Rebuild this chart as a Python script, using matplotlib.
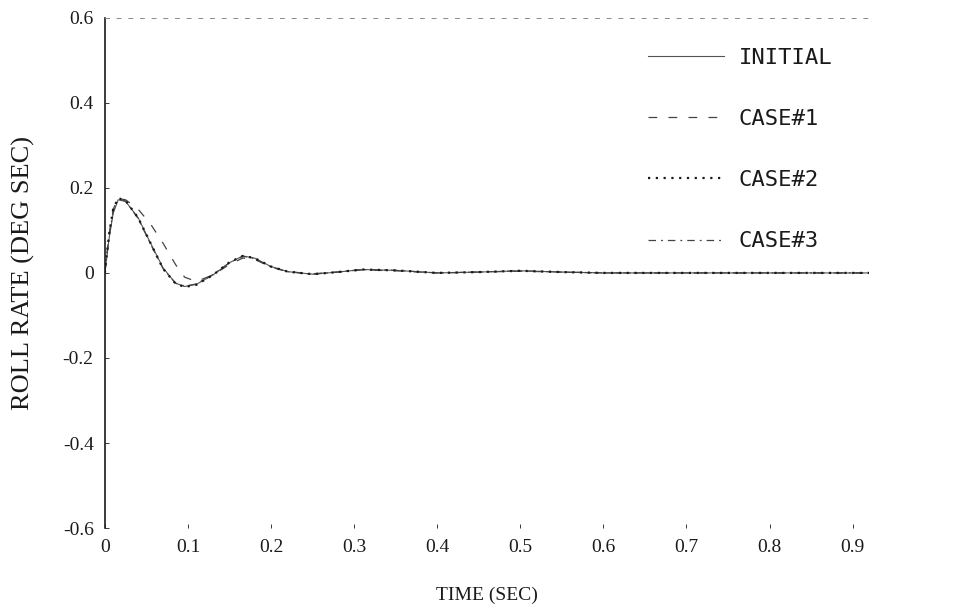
import numpy as np
import matplotlib.pyplot as plt

# time points (sec)
t = [0, 0.005, 0.01, 0.016, 0.025, 0.04, 0.055, 0.07, 0.085, 0.096, 0.11, 0.13,
     0.15, 0.166, 0.18, 0.2, 0.22, 0.25, 0.28, 0.31, 0.35, 0.4, 0.45, 0.5, 0.55,
     0.6, 0.7, 0.8, 0.92]

# roll rate (deg/sec)
initial = [0, 0.08, 0.14, 0.172, 0.168, 0.13, 0.07, 0.012, -0.024, -0.032, -0.027,
           -0.005, 0.024, 0.04, 0.035, 0.015, 0.003, -0.003, 0.002, 0.008, 0.006,
           0.0, 0.002, 0.005, 0.002, 0.0, 0.0, 0.0, 0.0]
case1 = [0, 0.09, 0.15, 0.175, 0.172, 0.15, 0.115, 0.07, 0.02, -0.01, -0.02,
         -0.005, 0.02, 0.035, 0.032, 0.014, 0.003, -0.002, 0.002, 0.007, 0.005,
         0.0, 0.002, 0.004, 0.002, 0.0, 0.0, 0.0, 0.0]
case2 = [0, 0.09, 0.15, 0.176, 0.17, 0.13, 0.07, 0.01, -0.025, -0.033, -0.028,
         -0.005, 0.025, 0.04, 0.035, 0.015, 0.003, -0.003, 0.002, 0.008, 0.006,
         0.0, 0.002, 0.005, 0.002, 0.0, 0.0, 0.0, 0.0]
case3 = [0, 0.085, 0.145, 0.174, 0.169, 0.128, 0.068, 0.01, -0.024, -0.031, -0.026,
         -0.004, 0.024, 0.039, 0.034, 0.014, 0.003, -0.003, 0.002, 0.008, 0.006,
         0.0, 0.002, 0.005, 0.002, 0.0, 0.0, 0.0, 0.0]

xticks = [0, 0.1, 0.2, 0.3, 0.4, 0.5, 0.6, 0.7, 0.8, 0.9]
xlabels = ['0', '0.1', '0.2', '0.3', '0.4', '0.5', '0.6', '0.7', '0.8', '0.9']
yticks = [-0.6, -0.4, -0.2, 0, 0.2, 0.4, 0.6]
ylabels = ['-0.6', '-0.4', '-0.2', '0', '0.2', '0.4', '0.6']

fig = plt.figure(figsize=(9.8, 6.14), dpi=100)
ax = fig.add_axes([0.107, 0.14, 0.78, 0.831])

ink = '#1a1a1a'
ax.plot(t, initial, '-', color='#555555', lw=0.8, label='INITIAL')
ax.plot(t, case1, '--', color='#444444', lw=0.9, dashes=(7, 9), label='CASE#1')
ax.plot(t, case3, '-.', color='#444444', lw=0.9, dashes=(6, 4, 1.5, 4), label='CASE#3')
ax.plot(t, case2, ':', color=ink, lw=1.6, dashes=(1, 2.5), label='CASE#2')

ax.set_xlim(0, 0.92)
ax.set_ylim(-0.6, 0.6)
ax.set_xticks(xticks)
ax.set_xticklabels(xlabels)
ax.set_yticks(yticks)
ax.set_yticklabels(ylabels)

serif = 'Liberation Serif'
for lab in ax.get_xticklabels() + ax.get_yticklabels():
    lab.set_family(serif)
    lab.set_fontsize(14)
ax.tick_params(direction='in', length=3, width=0.6, colors=ink, pad=8)

for s in ['right', 'bottom']:
    ax.spines[s].set_visible(False)
ax.spines['left'].set_color(ink)
ax.spines['left'].set_linewidth(1.2)
ax.spines['top'].set_color('#888888')
ax.spines['top'].set_linewidth(0.7)
ax.spines['top'].set_linestyle((0, (4, 8)))

ax.set_xlabel('TIME (SEC)', family=serif, fontsize=14, labelpad=22, color=ink)
ax.set_ylabel('ROLL RATE (DEG SEC)', family=serif, fontsize=19, color=ink)
ax.yaxis.set_label_coords(-0.092, 0.5)

# legend order as in the picture
h, l = ax.get_legend_handles_labels()
order = [0, 1, 3, 2]
leg = ax.legend([h[i] for i in order], [l[i] for i in order],
                loc='upper left', bbox_to_anchor=(0.685, 0.98), frameon=False,
                handlelength=3.4, labelspacing=1.85, handletextpad=0.65,
                prop={'family': 'DejaVu Sans Mono', 'size': 16})
for txt in leg.get_texts():
    txt.set_color(ink)

fig.savefig('out.png', dpi=100, facecolor='white')
